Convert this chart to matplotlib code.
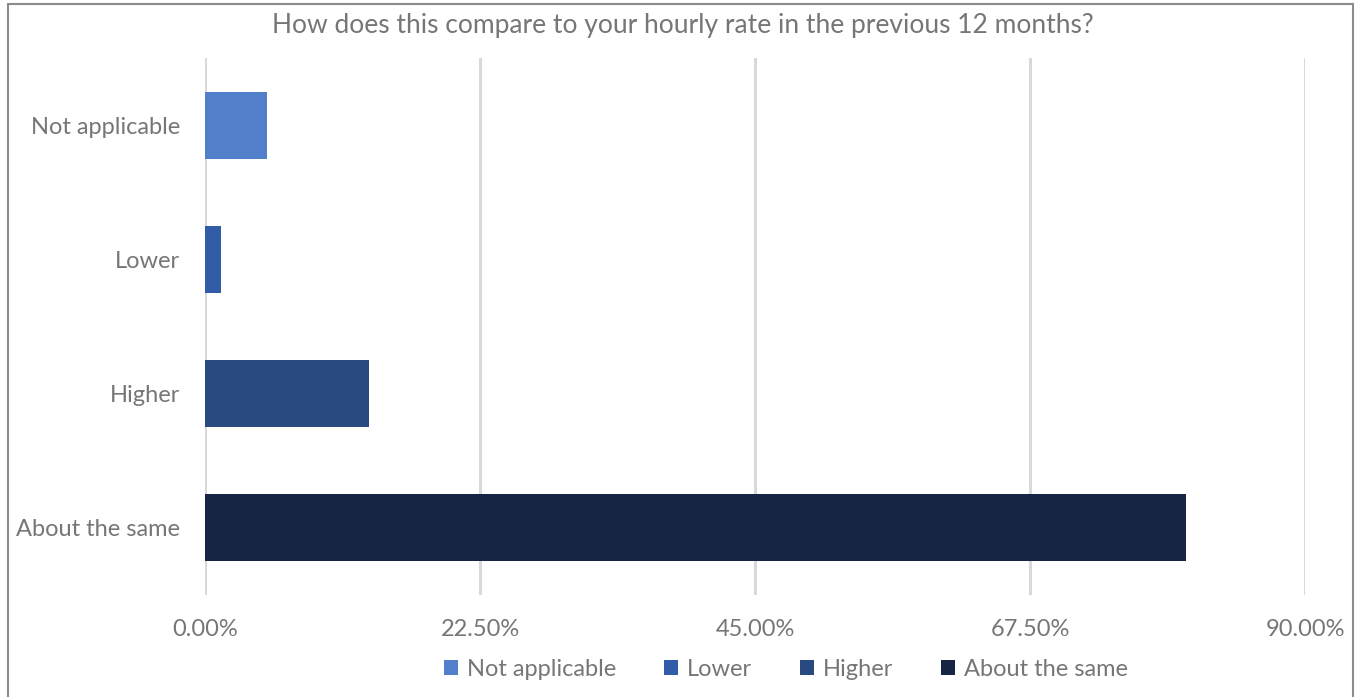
import matplotlib
matplotlib.use("Agg")
import matplotlib.pyplot as plt
from matplotlib.patches import Rectangle, Patch
from matplotlib.ticker import FuncFormatter

categories = ["About the same", "Higher", "Lower", "Not applicable"]
shares = [80.25, 13.40, 1.30, 5.07]
colors = ["#172545", "#284a80", "#325ca7", "#527fca"]
xticks = [0, 22.5, 45, 67.5, 90]
legend_order = ["Not applicable", "Lower", "Higher", "About the same"]

text_grey = "#767676"
plt.rcParams["font.family"] = ["Lato", "DejaVu Sans"]

W, H = 1357, 697
fig = plt.figure(figsize=(W / 100, H / 100), dpi=100)

# outer chart frame
fig.patches.append(Rectangle((8 / W, -0.01), (1353 - 8) / W, 1 - 4 / H + 0.01,
                             transform=fig.transFigure, fill=False,
                             edgecolor="#8c8c8c", linewidth=1.5))

ax = fig.add_axes([205 / W, 1 - 595 / H, 1100 / W, (595 - 58) / H])
ypos = list(range(len(categories)))
ax.barh(ypos, shares, height=0.5, color=colors, zorder=3)

ax.set_xlim(0, 90)
ax.set_ylim(-0.5, 3.5)
ax.set_xticks(xticks)
ax.xaxis.set_major_formatter(FuncFormatter(lambda v, p: f"{v:.2f}%"))
ax.set_yticks(ypos)
ax.set_yticklabels(categories)
ax.tick_params(axis="both", length=0, labelsize=17, labelcolor=text_grey)
ax.tick_params(axis="x", pad=17)
ax.tick_params(axis="y", pad=18)
ax.grid(axis="x", color="#d9d9d9", linewidth=2.2, zorder=0)
for s in ax.spines.values():
    s.set_visible(False)

fig.text(683 / W, 1 - 25 / H,
         "How does this compare to your hourly rate in the previous 12 months?",
         ha="center", va="center", fontsize=19, color=text_grey)

handles = [Patch(facecolor=colors[categories.index(c)], edgecolor="none", label=c)
           for c in legend_order]
fig.legend(handles=handles, loc="center", bbox_to_anchor=(786 / W, 1 - 669 / H),
           ncol=4, frameon=False, fontsize=17, labelcolor=text_grey,
           handlelength=0.6, handleheight=0.6, handletextpad=0.4,
           columnspacing=2.0)

fig.savefig("out.png", dpi=100)
